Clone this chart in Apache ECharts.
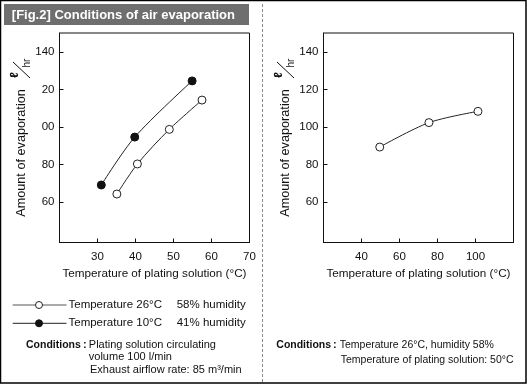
<!DOCTYPE html>
<html>
<head>
<meta charset="utf-8">
<script src="https://cdn.jsdelivr.net/npm/echarts@6/dist/echarts.min.js"></script>
<style>html,body{margin:0;padding:0;background:#fff}#c{width:527px;height:385px}</style>
</head>
<body>
<div id="c"></div>
<script>
// ---- data ----
const leftTemp10X = [31.0, 39.8, 54.9];
const leftTemp10Y = [69.1, 94.6, 124.5];
const leftTemp26X = [35.1, 40.5, 48.9, 57.5];
const leftTemp26Y = [64.3, 80.3, 98.7, 114.3];
const rightX = [49.6, 75.5, 101.3];
const rightY = [89.3, 102.3, 108.3];
const yTicks = [60, 80, 100, 120, 140];
const yLabelsLeft = ['60', '80', '00', '20', '140'];
const yLabelsRight = ['60', '80', '100', '120', '140'];
const xTicksLeft = [30, 40, 50, 60, 70];
const xTicksRight = [40, 60, 80, 100];

const FONT = '"Liberation Sans", Arial, Helvetica, sans-serif';
const zip = (a, b) => a.map((v, i) => [v, b[i]]);

const chart = echarts.init(document.getElementById('c'), null, {renderer: 'canvas'});

function yAxis(gridIndex, labels) {
  return {
    type: 'value', gridIndex, min: 38.5, max: 150,
    axisLine: {show: true, lineStyle: {color: '#111', width: 1}},
    axisTick: {show: true, inside: true, length: 4, customValues: yTicks, lineStyle: {color: '#111'}},
    axisLabel: {customValues: yTicks, margin: 5, color: '#111', fontSize: 11.5, fontFamily: FONT,
      formatter: v => labels[yTicks.indexOf(v)]},
    splitLine: {show: false}
  };
}
function xAxis(gridIndex, min, max, ticks) {
  return {
    type: 'value', gridIndex, min, max,
    axisLine: {show: true, lineStyle: {color: '#111', width: 1}},
    axisTick: {show: true, inside: true, length: 4, customValues: ticks, lineStyle: {color: '#111'}},
    axisLabel: {customValues: ticks, margin: 8, color: '#111', fontSize: 11.5, fontFamily: FONT},
    splitLine: {show: false},
    name: 'Temperature of plating solution (°C)', nameLocation: 'middle', nameGap: 25,
    nameTextStyle: {fontSize: 11.7, color: '#111', fontFamily: FONT}
  };
}

const lineStyle = {color: '#222', width: 1};
const openItem = {color: '#fff', borderColor: '#222', borderWidth: 1};
const fillItem = {color: '#111', borderColor: '#111', borderWidth: 1};

function yName(cx, cy) {
  return {
    type: 'text', x: cx, y: cy, rotation: Math.PI / 2,
    style: {text: 'Amount of evaporation', fontSize: 12.7, fontFamily: FONT, fill: '#111',
      align: 'center', verticalAlign: 'middle'}
  };
}
function unit(cx, cy) {
  return {
    type: 'group', x: cx, y: cy, rotation: Math.PI / 2,
    children: [
      {type: 'text', x: -5, y: -6.5, style: {text: 'ℓ', fontSize: 12, fontFamily: FONT, fill: '#111', align: 'center', verticalAlign: 'middle', fontWeight: 'bold'}},
      {type: 'line', shape: {x1: -8, y1: 8.5, x2: 8, y2: -8.5}, style: {stroke: '#111', lineWidth: 1}},
      {type: 'text', x: 7, y: 6, style: {text: 'hr', fontSize: 10, fontFamily: FONT, fill: '#111', align: 'center', verticalAlign: 'middle'}}
    ]
  };
}
function txt(x, y, text, size, opts) {
  return {type: 'text', x, y, style: Object.assign({text, fontSize: size, fontFamily: FONT, fill: '#111',
    align: 'left', verticalAlign: 'middle'}, opts || {})};
}

const option = {
  animation: false,
  backgroundColor: '#fff',
  grid: [
    {left: 59.5, top: 33, width: 190, height: 209.5, show: true, borderColor: '#111', borderWidth: 1, backgroundColor: 'transparent'},
    {left: 323.5, top: 33, width: 190, height: 209.5, show: true, borderColor: '#111', borderWidth: 1, backgroundColor: 'transparent'}
  ],
  xAxis: [xAxis(0, 20, 70, xTicksLeft), xAxis(1, 20, 120, xTicksRight)],
  yAxis: [yAxis(0, yLabelsLeft), yAxis(1, yLabelsRight)],
  series: [
    {type: 'line', xAxisIndex: 0, yAxisIndex: 0, name: 'Temperature 26°C 58% humidity', data: zip(leftTemp26X, leftTemp26Y),
      smooth: 0.3, symbol: 'circle', symbolSize: 8, lineStyle, itemStyle: openItem},
    {type: 'line', xAxisIndex: 0, yAxisIndex: 0, name: 'Temperature 10°C 41% humidity', data: zip(leftTemp10X, leftTemp10Y),
      smooth: 0.3, symbol: 'circle', symbolSize: 8, lineStyle, itemStyle: fillItem},
    {type: 'line', xAxisIndex: 1, yAxisIndex: 1, name: 'Right', data: zip(rightX, rightY),
      smooth: 0.3, symbol: 'circle', symbolSize: 8, lineStyle, itemStyle: openItem}
  ],
  graphic: [
    {type: 'rect', shape: {x: 0.5, y: 0.5, width: 525.5, height: 382.5}, style: {fill: 'none', stroke: '#000', lineWidth: 1.5}},
    {type: 'line', shape: {x1: 262.5, y1: 4, x2: 262.5, y2: 383}, style: {stroke: '#888', lineWidth: 1, lineDash: [3, 2]}},
    {type: 'rect', shape: {x: 4, y: 4, width: 245, height: 21}, style: {fill: '#6e6e6e'}},
    txt(11.8, 15, '[Fig.2] Conditions of air evaporation', 13, {fill: '#fff', fontWeight: 'bold'}),
    yName(21, 153), unit(21.5, 70),
    yName(285, 153), unit(285.5, 70),
    // legend
    {type: 'line', shape: {x1: 12.7, y1: 305, x2: 66.5, y2: 305}, style: {stroke: '#555', lineWidth: 1}},
    {type: 'circle', shape: {cx: 39, cy: 305, r: 3.5}, style: {fill: '#fff', stroke: '#222', lineWidth: 1}},
    txt(68.5, 305, 'Temperature 26°C', 11.5), txt(176.7, 305, '58% humidity', 11.5),
    {type: 'line', shape: {x1: 12.7, y1: 323.3, x2: 66.5, y2: 323.3}, style: {stroke: '#222', lineWidth: 1}},
    {type: 'circle', shape: {cx: 39, cy: 323.3, r: 3.5}, style: {fill: '#111', stroke: '#111', lineWidth: 1}},
    txt(68.5, 323.3, 'Temperature 10°C', 11.5), txt(176.7, 323.3, '41% humidity', 11.5),
    // conditions left
    txt(26, 345, 'Conditions', 10.5, {fontWeight: 'bold'}), txt(83, 345, ':', 11, {fontWeight: 'bold'}),
    txt(88.8, 345, 'Plating solution circulating', 11),
    txt(88.8, 357, 'volume 100 l/min', 11),
    txt(90, 370, 'Exhaust airflow rate: 85 m³/min', 11),
    // conditions right
    txt(276.3, 345.3, 'Conditions', 10.5, {fontWeight: 'bold'}), txt(333, 345.3, ':', 11, {fontWeight: 'bold'}),
    txt(339.7, 345.3, 'Temperature 26°C, humidity 58%', 10.5),
    txt(340.7, 360, 'Temperature of plating solution: 50°C', 10.5)
  ]
};
chart.setOption(option);
</script>
</body>
</html>
